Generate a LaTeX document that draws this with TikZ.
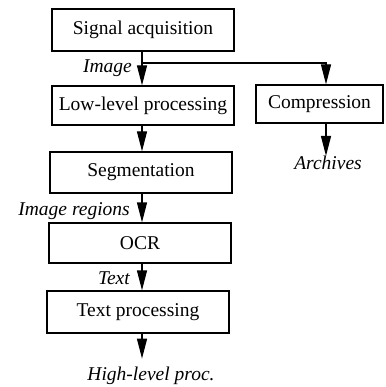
\documentclass[tikz,border=0pt]{standalone}
\usepackage{fontspec}
\setmainfont{Liberation Serif}
\usetikzlibrary{arrows.meta}
\begin{document}
\begin{tikzpicture}[x=1pt,y=-1pt,
    stage/.style={draw,line width=1.3pt,inner sep=0pt,minimum width=182pt,font=\rmfamily\fontsize{19.5}{22}\selectfont},
    flow/.style={line width=1.3pt,-{Triangle[length=20pt,width=10pt]}},
    tag/.style={font=\rmfamily\fontsize{19.5}{22}\selectfont\itshape,inner sep=0pt}]
    \useasboundingbox (0,0) rectangle (385,387);

    \node[stage,minimum height=42pt] (acq) at (143,30) {Signal acquisition};
    \node[stage,minimum height=39pt] (low) at (143,105.5) {Low-level processing};
    \node[stage,minimum height=41pt] (seg) at (141,172.5) {Segmentation};
    \node[stage,minimum height=40pt] (ocr) at (140,243) {OCR};
    \node[stage,minimum height=42pt] (txt) at (138,312) {Text processing};
    \node[stage,minimum width=127pt,minimum height=38pt] (comp) at (319.5,104) {Compression};

    \coordinate (spine) at (142,0);
    \coordinate (fork) at (142,63);
    \coordinate (side) at (326,0);

    \draw[flow] (acq.south -| spine) -- (low.north -| spine);
    \draw[flow] (fork) -| (comp.north -| side);
    \draw[flow] (low.south -| spine) -- (seg.north -| spine);
    \draw[flow] (seg.south -| spine) -- (ocr.north -| spine);
    \draw[flow] (ocr.south -| spine) -- (txt.north -| spine);

    \node[tag] (arch) at (328,163) {Archives};
    \node[tag] (high) at (151,376) {High-level proc.};
    \draw[flow] (comp.south -| side) -- (arch.north -| side);
    \draw[flow] (txt.south -| spine) -- ++(0,25) coordinate (hend);

    \node[tag,anchor=east] (img) at (132,68) {Image};
    \node[tag,anchor=east] (regions) at (130,211) {Image regions};
    \node[tag,anchor=east] (text) at (130,278) {Text};
\end{tikzpicture}
\end{document}
